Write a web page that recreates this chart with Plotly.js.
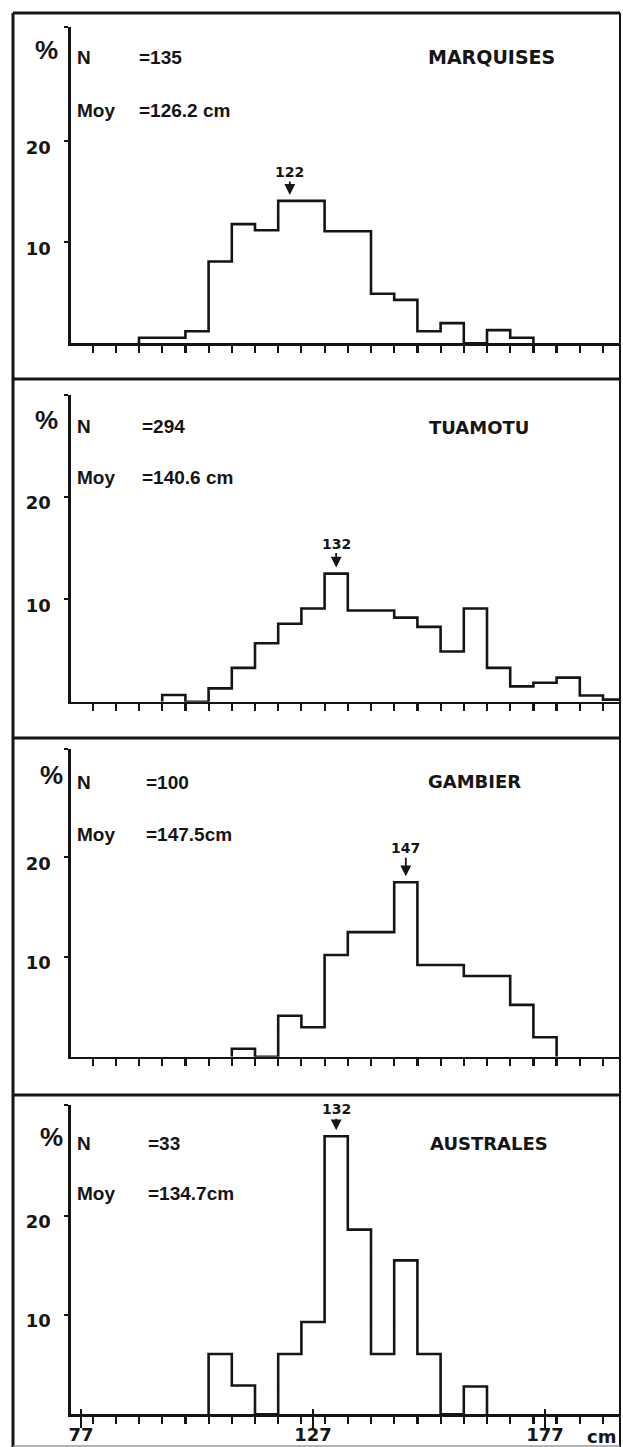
<!DOCTYPE html>
<html><head><meta charset="utf-8">
<script src="https://cdn.plot.ly/plotly-3.0.1.min.js"></script>
<style>html,body{margin:0;padding:0;background:#fff;}#chart{width:623px;height:1447px;}</style>
</head><body><div id="chart"></div>
<script>
// ---------------- data ----------------
const binCenters = [92, 97, 102, 107, 112, 117, 122, 127, 132, 137, 142, 147, 152, 157, 162, 167, 172, 177, 182, 187, 192];
const binWidth = 5;
const regions = ['MARQUISES', 'TUAMOTU', 'GAMBIER', 'AUSTRALES'];
const nValues = ['135', '294', '100', '33'];
const meanLabels = ['126.2 cm', '140.6 cm', '147.5cm', '134.7cm'];
const modeValues = [122, 132, 147, 132];
const pctMarquises = [0.55, 0.55, 1.2, 8.1, 11.8, 11.2, 14.1, 14.1, 11.1, 11.1, 4.9, 4.3, 1.2, 2.0, 0, 1.3, 0.55, 0, 0, 0, 0];
const pctTuamotu   = [0, 0.65, 0, 1.3, 3.3, 5.7, 7.6, 9.1, 12.5, 8.9, 8.9, 8.2, 7.3, 4.9, 9.1, 3.3, 1.5, 1.85, 2.35, 0.6, 0.2];
const pctGambier   = [0, 0, 0, 0, 0.8, 0, 4.1, 2.95, 10.2, 12.5, 12.5, 17.5, 9.2, 9.2, 8.1, 8.1, 5.2, 1.95, 0, 0, 0];
const pctAustrales = [0, 0, 0, 6.07, 2.9, 0, 6.07, 9.3, 28.0, 18.6, 6.07, 15.5, 6.07, 0, 2.8, 0, 0, 0, 0, 0, 0];
const series = [pctMarquises, pctTuamotu, pctGambier, pctAustrales];
const xTickVals = [77, 127, 177];
const xTickText = ['77', '127', '177'];
const yTickVals = [10, 20];
const yTickText = ['10', '20'];

// ---------------- layout geometry (pixels) ----------------
const W = 623, H = 1447;
const px2x = p => p / W, px2y = p => 1 - p / H;
const plotLeft = 71, plotRight = 620;
const xRange = [74.845, 193.164];
const panels = [
  {top: 27,   bottom: 343.3,  pxPer: 10.1},
  {top: 395,  bottom: 701.7,  pxPer: 10.25},
  {top: 749,  bottom: 1056.7, pxPer: 9.97},
  {top: 1105, bottom: 1414.3, pxPer: 9.93}
];
const ink = '#151515';
const boldDV = {family: 'DejaVu Sans', size: 18, color: ink, weight: 'bold'};
const boldLS = {family: 'Liberation Sans, Arial', size: 19, color: ink, weight: 'bold'};

const nY = [58, 427, 782, 1143];
const moyY = [110, 477, 835, 1193];
const valX = [138, 141, 145, 147];
const regionX = [427, 428, 427, 429];
const regionY = [57, 428, 781, 1143];
const regionSize = [19, 18, 18, 18];
const pctPos = [[47, 50], [47, 420], [51, 775], [51, 1137]];
const modeAy = [-29, -30, -34, -27];

function stepXY(vals) {
  let first = vals.findIndex(v => v > 0);
  let last = vals.length - 1;
  while (last > 0 && vals[last] <= 0) last--;
  const xs = [binCenters[first] - binWidth / 2], ys = [0];
  for (let i = first; i <= last; i++) { xs.push(binCenters[i] - binWidth / 2); ys.push(vals[i]); }
  xs.push(binCenters[last] + binWidth / 2); ys.push(0);
  return {xs, ys};
}

const data = [];
const layout = {
  width: W, height: H, margin: {l: 0, r: 0, t: 0, b: 0},
  paper_bgcolor: '#fff', plot_bgcolor: 'rgba(0,0,0,0)', showlegend: false,
  annotations: [], shapes: []
};

series.forEach((vals, i) => {
  const k = i === 0 ? '' : String(i + 1);
  const p = panels[i];
  const s = stepXY(vals);
  data.push({
    type: 'scatter', mode: 'lines', x: s.xs, y: s.ys,
    xaxis: 'x' + k, yaxis: 'y' + k,
    line: {shape: 'hv', color: ink, width: 2.6}, hoverinfo: 'skip'
  });
  const yTop = (p.bottom - p.top) / p.pxPer;
  const xa = {
    domain: [px2x(plotLeft), px2x(plotRight)], range: xRange, anchor: 'y' + k,
    showline: true, linecolor: ink, linewidth: 2.6, showgrid: false, zeroline: false,
    ticks: 'outside', tickmode: 'linear', tick0: 79.5, dtick: binWidth,
    ticklen: 7, tickwidth: 2.2, tickcolor: ink, showticklabels: false, fixedrange: true
  };
  if (i === 3) {
    Object.assign(xa, {
      tickmode: 'array', tickvals: xTickVals, ticktext: xTickText, ticklen: 11,
      showticklabels: true, tickfont: {family: 'DejaVu Sans', size: 18, color: ink, weight: 'bold'},
      ticklabelstandoff: -9,
      minor: {tickmode: 'linear', tick0: 79.5, dtick: binWidth, ticks: 'outside', ticklen: 7, tickwidth: 2.2, tickcolor: ink}
    });
  }
  layout['xaxis' + k] = xa;
  layout['yaxis' + k] = {
    domain: [px2y(p.bottom), px2y(p.top)], range: [0, yTop], anchor: 'x' + k,
    showline: true, linecolor: ink, linewidth: 2.6, showgrid: false, zeroline: false,
    ticks: 'outside', tickmode: 'array', tickvals: yTickVals.concat([yTop]), ticktext: yTickText.concat(['']),
    ticklen: 4, tickwidth: 2.2, tickcolor: ink,
    tickfont: boldDV, ticklabelstandoff: 10, ticklabelshift: 6, fixedrange: true
  };

  const A = layout.annotations;
  const ann = (x, y, text, font, xanchor) => A.push({xref: 'paper', yref: 'paper', x: px2x(x), y: px2y(y),
    text, font, showarrow: false, xanchor: xanchor || 'left', yanchor: 'middle', borderpad: 0});
  ann(pctPos[i][0], pctPos[i][1], '%', {family: 'Liberation Sans, Arial', size: 26, color: ink, weight: 'bold'}, 'center');
  ann(76, nY[i], 'N', boldLS);
  ann(valX[i], nY[i], '=' + nValues[i], boldLS);
  ann(76, moyY[i], 'Moy', boldLS);
  ann(valX[i], moyY[i], '=' + meanLabels[i], boldLS);
  ann(regionX[i], regionY[i], regions[i], Object.assign({}, boldDV, {size: regionSize[i]}));
  // mode arrow
  const mi = binCenters.indexOf(modeValues[i]);
  A.push({xref: 'x' + k, yref: 'y' + k, x: modeValues[i], y: vals[mi], text: String(modeValues[i]),
    font: {family: 'DejaVu Sans', size: 14, color: ink, weight: 'bold'},
    showarrow: true, arrowhead: 2, arrowsize: 1.2, arrowwidth: 1.8, arrowcolor: ink,
    ax: 0, ay: modeAy[i], standoff: 6});
});

// tall ticks above the bottom axis
layout.xaxis5 = {
  domain: [px2x(plotLeft), px2x(plotRight)], range: xRange, overlaying: 'x4', anchor: 'y4',
  showline: false, showgrid: false, zeroline: false, ticks: 'inside', tickmode: 'array',
  tickvals: xTickVals, ticklen: 5, tickwidth: 2.2, tickcolor: ink, showticklabels: false, fixedrange: true
};
data.push({type: 'scatter', mode: 'lines', x: [], y: [], xaxis: 'x5', yaxis: 'y4', hoverinfo: 'skip'});

layout.annotations.push({xref: 'paper', yref: 'paper', x: px2x(601), y: px2y(1436), text: 'cm',
  font: {family: 'DejaVu Sans', size: 18, color: ink, weight: 'bold'}, showarrow: false, xanchor: 'center', yanchor: 'middle'});

// frame
const L = (x0, y0, x1, y1, w, c) => layout.shapes.push({type: 'line', xref: 'paper', yref: 'paper',
  x0: px2x(x0), y0: px2y(y0), x1: px2x(x1), y1: px2y(y1), line: {color: c || ink, width: w}});
L(13, 13, 620, 13, 3);
L(13, 13, 13, 1447, 3);
L(620, 13, 620, 1447, 2);
L(13, 379, 620, 379, 3);
L(13, 738, 620, 738, 3);
L(13, 1095, 620, 1095, 3);
L(13, 1446, 620, 1446, 1.5, '#999');

Plotly.newPlot('chart', data, layout, {staticPlot: true, displayModeBar: false});
</script></body></html>
